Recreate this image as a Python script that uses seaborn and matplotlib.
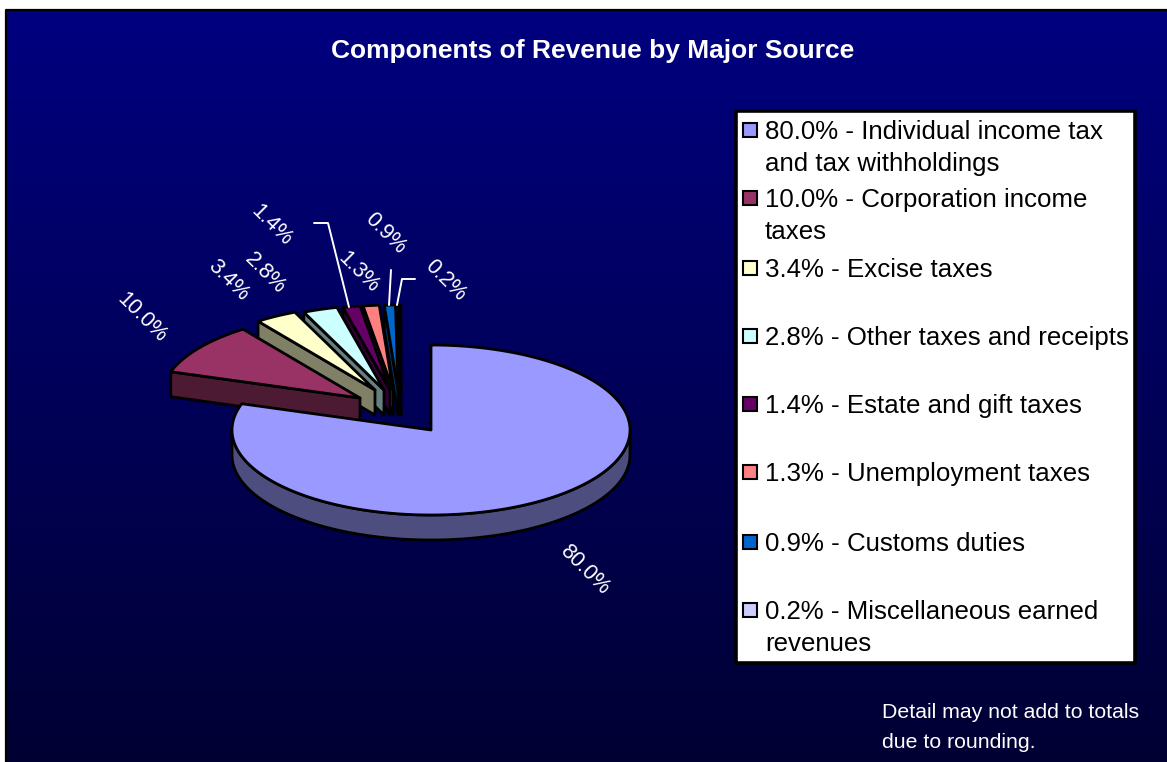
import numpy as np
import matplotlib
matplotlib.use('Agg')
import matplotlib.pyplot as plt
from matplotlib.patches import Polygon, Rectangle
import seaborn as sns

sources = ['Individual income tax', 'Corporation income', 'Excise taxes', 'Other taxes and receipts',
           'Estate and gift taxes', 'Unemployment taxes', 'Customs duties', 'Miscellaneous earned']
second_lines = ['and tax withholdings', 'taxes', '', '', '', '', '', 'revenues']
shares = [80.0, 10.0, 3.4, 2.8, 1.4, 1.3, 0.9, 0.2]
title = 'Components of Revenue by Major Source'
note = ['Detail may not add to totals', 'due to rounding.']

top_colors = ['#9999FF', '#993366', '#FFFFCC', '#CCFFFF', '#660066', '#FF8080', '#0066CC', '#CCCCFF']
side_colors = ['#4D4D80', '#4D1A33', '#808066', '#668080', '#330033', '#804040', '#003366', '#666680']

# apex of each slice in picture pixels (slices are pulled out by hand in the original)
apex = [(431, 430), (360, 398), (375, 390), (384, 390), (390, 390), (393, 390), (398, 390), (401, 390)]
label_pos = [(585, 570), (142, 318), (228, 280), (265, 273), (272, 225), (358, 272), (385, 233), (445, 280)]
legend_y = [130, 198, 268, 336, 404, 472, 542, 610]
legend_y2 = [162, 230, None, None, None, None, None, 642]
leaders = [[(349, 307), (328, 223), (314, 223)],
           [(389, 305), (391, 270)],
           [(397, 305), (402, 279), (415, 279)]]

RX, RY, DEPTH = 199, 85, 25
FONT = 'Liberation Sans'
EDGE = 2.0

sns.set_style('white')
plt.rcParams['font.family'] = [FONT, 'DejaVu Sans']
palette = sns.color_palette(top_colors)
side_palette = sns.color_palette(side_colors)

fig = plt.figure(figsize=(11.67, 7.62), dpi=100, facecolor='white')
ax = fig.add_axes([0, 0, 1, 1])

# background gradient
grad = np.linspace(0, 1, 256).reshape(-1, 1)
cmap = sns.blend_palette(['#000080', '#000033'], as_cmap=True)
ax.imshow(grad, cmap=cmap, extent=(6, 1167, 762, 10), aspect='auto', zorder=0)
ax.plot([6, 6, 1167], [762, 10, 10], color='black', lw=1.6, zorder=1)


def rim(cx, cy, a0, a1):
    # angles are degrees clockwise from 12 o'clock
    t = np.radians(np.linspace(a0, a1, max(int(abs(a1 - a0) * 2), 2)))
    return np.column_stack([cx + RX * np.sin(t), cy - RY * np.cos(t)])


# slice angles from the shares
edges = np.concatenate([[0], np.cumsum(shares)]) / sum(shares) * 360
z = 2
for i in list(range(len(shares) - 1, 0, -1)) + [0]:
    cx, cy = apex[i]
    a0, a1 = edges[i], edges[i + 1]
    arc = rim(cx, cy, a0, a1)
    if i == 0:
        # the big slice shows its curved wall along the front
        front = rim(cx, cy, 90, 270)
        wall = np.vstack([front, front[::-1] + [0, DEPTH]])
    else:
        # the small ones show only the wall of their left radial edge
        wall = np.array([arc[0], (cx, cy), (cx, cy + DEPTH), arc[0] + [0, DEPTH]])
    ax.add_patch(Polygon(wall, closed=True, fc=side_palette[i], ec='black', lw=EDGE, joinstyle='round', zorder=z))
    ax.add_patch(Polygon(np.vstack([[(cx, cy)], arc]), closed=True, fc=palette[i], ec='black', lw=EDGE,
                         joinstyle='round', zorder=z + 1))
    z += 2

for line in leaders:
    xs, ys = zip(*line)
    ax.plot(xs, ys, color='white', lw=1.4, zorder=z)

for v, (x, y) in zip(shares, label_pos):
    ax.text(x, y, f'{v:.1f}%', color='white', fontsize=15.5, rotation=-45,
            ha='center', va='center', zorder=z)

ax.text(593, 51, title, color='white', fontsize=19, fontweight='bold', ha='center', va='center', zorder=z)

# legend box
ax.add_patch(Rectangle((736, 111), 399, 552, fc='white', ec='black', lw=2.6, zorder=z))
for i, (name, v) in enumerate(zip(sources, shares)):
    y = legend_y[i]
    ax.add_patch(Rectangle((743, y - 7), 14, 14, fc=palette[i], ec='black', lw=1.5, zorder=z + 1))
    ax.text(765, y + 2, f'{v:.1f}% - {name}', color='black', fontsize=18.6, ha='left', va='center', zorder=z + 1)
    if second_lines[i]:
        ax.text(765, legend_y2[i] + 2, second_lines[i], color='black', fontsize=18.6, ha='left', va='center',
                zorder=z + 1)

ax.text(882, 713, note[0], color='white', fontsize=15.3, ha='left', va='center', zorder=z)
ax.text(882, 742, note[1], color='white', fontsize=15.3, ha='left', va='center', zorder=z)

ax.set_xlim(0, 1167)
ax.set_ylim(762, 0)
ax.axis('off')

plt.savefig('out.png', dpi=100, facecolor='white')
